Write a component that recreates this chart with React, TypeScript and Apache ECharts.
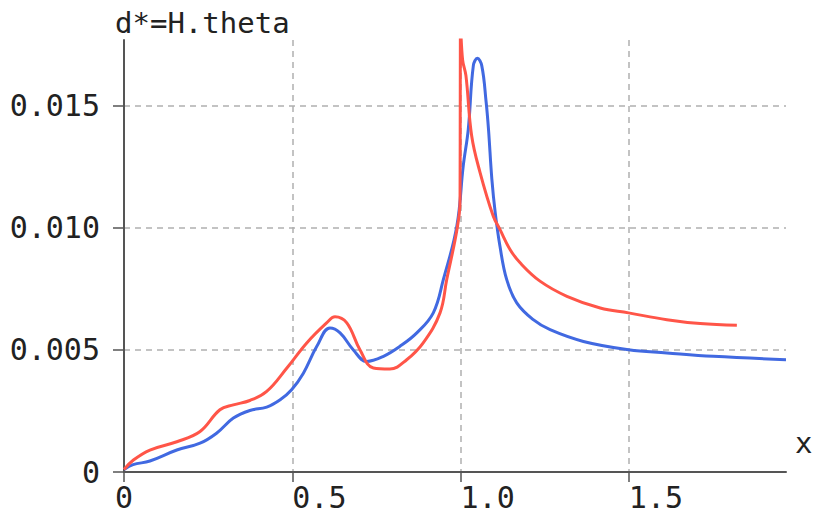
import React, { useEffect, useRef } from "react";
import * as echarts from "echarts";

const xTicks = [0, 0.5, 1.0, 1.5];
const yTicks = [0, 0.005, 0.01, 0.015];

const blueX = [0, 0.027, 0.077, 0.157, 0.226, 0.275, 0.325, 0.374, 0.424, 0.464, 0.498, 0.533, 0.573, 0.612, 0.642, 0.681, 0.721, 0.771, 0.82, 0.87, 0.919, 0.949, 0.989, 1.008, 1.023, 1.038, 1.05, 1.063, 1.076, 1.083, 1.093, 1.103, 1.117, 1.137, 1.167, 1.216, 1.266, 1.365, 1.499, 1.613, 1.751, 1.967];
const blueY = [0.0001, 0.0003, 0.00045, 0.0009, 0.00118, 0.00159, 0.00221, 0.00252, 0.00266, 0.00296, 0.00337, 0.00405, 0.00515, 0.0059, 0.0057, 0.00501, 0.00453, 0.00474, 0.00515, 0.0057, 0.00652, 0.00789, 0.01008, 0.01254, 0.01405, 0.01665, 0.01695, 0.01665, 0.01516, 0.01405, 0.012, 0.01063, 0.00926, 0.00789, 0.00693, 0.00624, 0.00583, 0.00535, 0.00501, 0.00488, 0.00474, 0.0046];

const redX = [0, 0.028, 0.077, 0.157, 0.226, 0.285, 0.325, 0.374, 0.424, 0.484, 0.543, 0.602, 0.627, 0.662, 0.701, 0.741, 0.79, 0.84, 0.889, 0.939, 0.959, 0.984, 0.996, 0.9985, 0.9995, 1.006, 1.016, 1.033, 1.058, 1.097, 1.117, 1.147, 1.177, 1.236, 1.316, 1.415, 1.499, 1.613, 1.712, 1.821];
const redY = [0.0001, 0.00049, 0.0009, 0.00124, 0.00166, 0.00255, 0.00275, 0.00293, 0.0033, 0.00426, 0.00529, 0.00611, 0.00636, 0.00611, 0.00501, 0.00426, 0.00422, 0.0046, 0.00529, 0.00652, 0.00789, 0.00953, 0.01056, 0.0112, 0.0185, 0.0169, 0.01624, 0.01378, 0.01227, 0.01049, 0.00994, 0.00912, 0.00857, 0.00782, 0.0072, 0.00672, 0.00652, 0.00624, 0.00608, 0.00601];

const X_MAX = 1.967;
const Y_MAX = 0.0177;

const FONT = "DejaVu Sans Mono";
const AXIS_COLOR = "#555";
const GRID_COLOR = "#b0b0b0";

export default function App() {
  const ref = useRef<HTMLDivElement>(null);
  useEffect(() => {
    document.body.style.margin = "0";
    const chart = echarts.init(ref.current!, null, { renderer: "svg" });
    const zip = (xs: number[], ys: number[]) => xs.map((x, i) => [x, ys[i]]);
    chart.setOption({
      animation: false,
      backgroundColor: "#fff",
      grid: { left: 124, right: 32, top: 40, bottom: 46, containLabel: false, outerBoundsMode: "none" },
      xAxis: {
        type: "value",
        min: 0,
        max: X_MAX,
        interval: 0.5,
        name: "x",
        nameLocation: "end",
        nameGap: 9,
        nameTextStyle: { fontFamily: FONT, fontSize: 29, color: "#222", align: "left", verticalAlign: "bottom", padding: [0, 0, 15, 0] },
        axisLine: { lineStyle: { color: AXIS_COLOR, width: 2 } },
        axisTick: { length: 10, lineStyle: { color: AXIS_COLOR, width: 1.5 }, customValues: xTicks },
        axisLabel: {
          customValues: xTicks,
          fontFamily: FONT,
          fontSize: 30,
          color: "#222",
          margin: 10,
          align: "left",
          alignMinLabel: "center",
          formatter: (v: number) => (v === 0 ? "0" : v.toFixed(1)),
        },
        splitLine: { show: true, lineStyle: { color: [GRID_COLOR, GRID_COLOR, GRID_COLOR, GRID_COLOR, "rgba(0,0,0,0)"], type: [6, 5], width: 1.5 } },
      },
      yAxis: {
        type: "value",
        min: 0,
        max: Y_MAX,
        interval: 0.005,
        name: "d*=H.theta",
        nameLocation: "end",
        nameGap: 3,
        nameTextStyle: { fontFamily: FONT, fontSize: 29, color: "#222", align: "left", verticalAlign: "bottom", padding: [0, 0, 0, -9] },
        axisLine: { show: true, lineStyle: { color: AXIS_COLOR, width: 2 } },
        axisTick: { show: true, length: 11, lineStyle: { color: AXIS_COLOR, width: 1.5 }, customValues: yTicks },
        axisLabel: {
          customValues: yTicks,
          fontFamily: FONT,
          fontSize: 30,
          color: "#222",
          margin: 24,
          formatter: (v: number) => (v === 0 ? "0" : v.toFixed(3)),
        },
        splitLine: { show: true, lineStyle: { color: [GRID_COLOR, GRID_COLOR, GRID_COLOR, GRID_COLOR, "rgba(0,0,0,0)"], type: [6, 5], width: 1.5 } },
      },
      series: [
        {
          type: "line",
          data: zip(blueX, blueY),
          showSymbol: false,
          smooth: 0.4,
          clip: true,
          lineStyle: { color: "#4169e1", width: 3 },
          itemStyle: { color: "#4169e1" },
        },
        {
          type: "line",
          data: zip(redX, redY),
          showSymbol: false,
          smooth: 0.4,
          clip: true,
          lineStyle: { color: "#ff5548", width: 3 },
          itemStyle: { color: "#ff5548" },
        },
      ],
    });
    return () => chart.dispose();
  }, []);
  return <div ref={ref} style={{ width: 818, height: 518 }} />;
}
